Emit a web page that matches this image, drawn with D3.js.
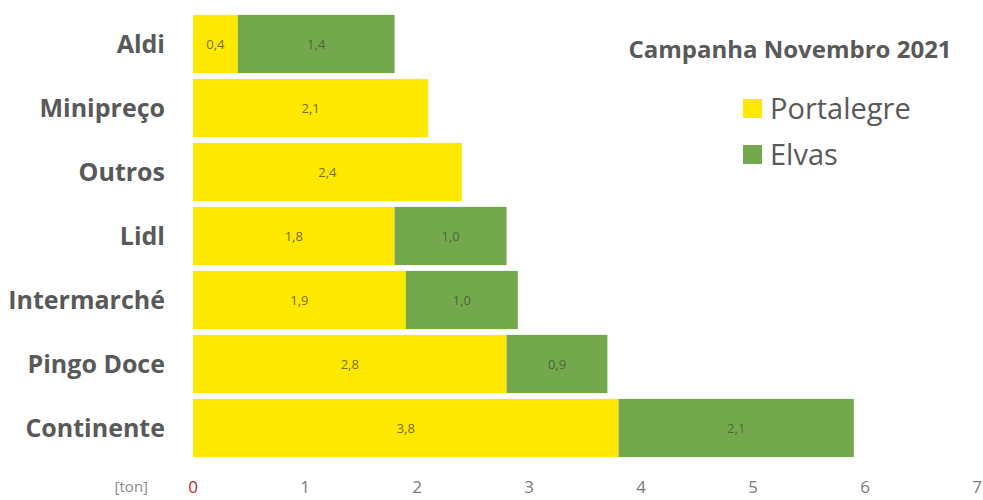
<!DOCTYPE html>
<html lang="pt">
<head>
<meta charset="utf-8">
<title>Campanha Novembro 2021</title>
<script src="https://cdn.jsdelivr.net/npm/d3@7"></script>
<style>
  body { margin: 0; background: #fff; }
</style>
</head>
<body>
<div id="chart"></div>
<script>
  const W = 983, H = 500;

  const categories = ["Aldi", "Minipreço", "Outros", "Lidl", "Intermarché", "Pingo Doce", "Continente"];
  const portalegre = [0.4, 2.1, 2.4, 1.8, 1.9, 2.8, 3.8];
  const elvas      = [1.4, 0,   0,   1.0, 1.0, 0.9, 2.1];
  const seriesNames = ["Portalegre", "Elvas"];
  const colors = ["#FFE900", "#74A84C"];
  const labelColors = ["#7a6e10", "#4d6a33"];
  const xTicks = [0, 1, 2, 3, 4, 5, 6, 7];

  const rows = categories.map((c, i) => ({ cat: c, Portalegre: portalegre[i], Elvas: elvas[i] }));

  const svg = d3.select("#chart").append("svg")
    .attr("width", W)
    .attr("height", H);

  const x = d3.scaleLinear().domain([0, 7]).range([193, 977]);
  const y = d3.scaleBand().domain(categories).range([12, 460])
    .paddingInner(0.09).paddingOuter(0.045);

  const stack = d3.stack().keys(seriesNames)(rows);

  // bars
  const layers = svg.selectAll("g.layer")
    .data(stack)
    .enter().append("g")
      .attr("class", "layer")
      .attr("fill", (d, i) => colors[i]);

  layers.selectAll("rect")
    .data(d => d.filter(p => p[1] - p[0] > 0))
    .enter().append("rect")
      .attr("x", d => x(d[0]))
      .attr("y", d => y(d.data.cat))
      .attr("width", d => x(d[1]) - x(d[0]))
      .attr("height", y.bandwidth());

  // value labels
  stack.forEach((layer, i) => {
    svg.append("g").selectAll("text")
      .data(layer.filter(p => p[1] - p[0] > 0))
      .enter().append("text")
        .attr("x", d => (x(d[0]) + x(d[1])) / 2)
        .attr("y", d => y(d.data.cat) + y.bandwidth() / 2)
        .attr("dy", "0.35em")
        .attr("text-anchor", "middle")
        .attr("font-family", "'Open Sans', sans-serif")
        .attr("font-size", 13)
        .attr("fill", labelColors[i])
        .text(d => d3.format(".1f")(d[1] - d[0]).replace(".", ","));
  });

  // category labels
  svg.append("g").selectAll("text")
    .data(categories)
    .enter().append("text")
      .attr("x", 165)
      .attr("y", d => y(d) + y.bandwidth() / 2)
      .attr("dy", "0.35em")
      .attr("text-anchor", "end")
      .attr("font-family", "'Open Sans', sans-serif")
      .attr("font-weight", 700)
      .attr("font-size", 25)
      .attr("fill", "#595959")
      .text(d => d);

  // x axis labels
  svg.append("g").selectAll("text")
    .data(xTicks)
    .enter().append("text")
      .attr("x", d => x(d))
      .attr("y", 493)
      .attr("text-anchor", "middle")
      .attr("font-family", "'Open Sans', sans-serif")
      .attr("font-size", 17)
      .attr("fill", d => d === 0 ? "#c0262d" : "#7a7a7a")
      .text(d => d);

  svg.append("text")
    .attr("x", 148)
    .attr("y", 492)
    .attr("text-anchor", "end")
    .attr("font-family", "'Open Sans', sans-serif")
    .attr("font-size", 15)
    .attr("fill", "#8a8a8a")
    .text("[ton]");

  // title
  svg.append("text")
    .attr("x", 790)
    .attr("y", 58)
    .attr("text-anchor", "middle")
    .attr("font-family", "'Open Sans', sans-serif")
    .attr("font-weight", 700)
    .attr("font-size", 24)
    .attr("fill", "#595959")
    .text("Campanha Novembro 2021");

  // legend
  const legend = svg.append("g").selectAll("g")
    .data(seriesNames)
    .enter().append("g")
      .attr("transform", (d, i) => `translate(743, ${99 + i * 46})`);

  legend.append("rect")
    .attr("width", 19)
    .attr("height", 19)
    .attr("fill", (d, i) => colors[i]);

  legend.append("text")
    .attr("x", 27)
    .attr("y", 20)
    .attr("font-family", "'Open Sans', sans-serif")
    .attr("font-size", 29)
    .attr("fill", "#595959")
    .text(d => d);
</script>
</body>
</html>
